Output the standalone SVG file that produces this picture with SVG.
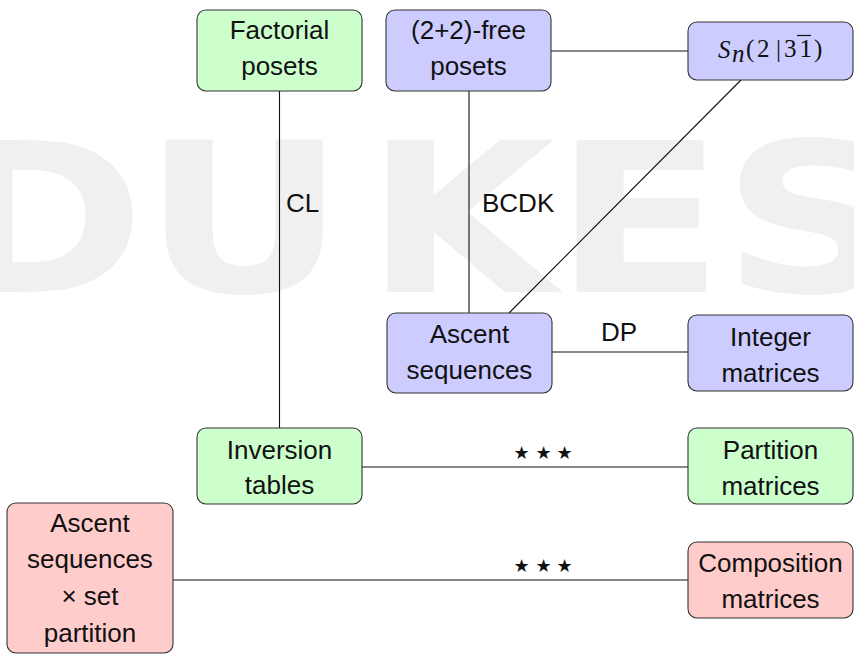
<svg xmlns="http://www.w3.org/2000/svg" width="854" height="655" viewBox="0 0 854 655">
<style>
.wm{font-family:"DejaVu Sans",sans-serif;font-weight:bold;font-size:208px;fill:#f0f0f0;text-anchor:middle}
.box rect{stroke:#333;stroke-width:1.1}
.g rect{fill:#ccffcc}
.b rect{fill:#ccccff}
.r rect{fill:#ffcccc}
.t{font-family:"Liberation Sans",Arial,sans-serif;font-size:26px;fill:#111;text-anchor:middle}
.lbl{font-family:"Liberation Sans",Arial,sans-serif;font-size:26px;fill:#111}
.star{font-family:"DejaVu Sans",sans-serif;font-size:18px;fill:#111;text-anchor:middle}
.m{font-family:"Liberation Serif","Times New Roman",serif;font-size:25px;fill:#111}
.mi{font-style:italic}
#edges line{stroke:#111;stroke-width:1.1}
</style>
<rect width="854" height="655" fill="#fff"/>
<g id="watermark">
<text class="wm" transform="translate(45,292) scale(1.16,1)">D</text>
<text class="wm" transform="translate(244,292) scale(1.2,1)">U</text>
<text class="wm" transform="translate(460,292) scale(1.18,1)">K</text>
<text class="wm" transform="translate(639,292) scale(1.2,1)">E</text>
<text class="wm" transform="translate(812,292) scale(1.2,1)">S</text>
</g>
<g id="edges">
<line x1="279.5" y1="91" x2="279.5" y2="428"/>
<line x1="469" y1="91" x2="469" y2="313"/>
<line x1="551" y1="51" x2="688" y2="51"/>
<line x1="741" y1="80" x2="509" y2="313"/>
<line x1="552" y1="352" x2="688" y2="352"/>
<line x1="362" y1="467" x2="688" y2="467"/>
<line x1="173" y1="580" x2="688" y2="580"/>
<text class="lbl" x="286" y="212">CL</text>
<text class="lbl" x="482" y="212">BCDK</text>
<text class="lbl" x="601" y="341">DP</text>
<text class="star" x="521.5" y="459">★</text>
<text class="star" x="543.5" y="459">★</text>
<text class="star" x="564.5" y="459">★</text>
<text class="star" x="521.5" y="572">★</text>
<text class="star" x="543.5" y="572">★</text>
<text class="star" x="564.5" y="572">★</text>
</g>
<g id="factorial" class="box g">
<rect x="197" y="10" width="165" height="81" rx="9"/>
<text class="t" x="279.5" y="39">Factorial</text>
<text class="t" x="279.5" y="75">posets</text>
</g>
<g id="free22" class="box b">
<rect x="386" y="10" width="165" height="81" rx="9"/>
<text class="t" x="468.5" y="39">(2+2)-free</text>
<text class="t" x="468.5" y="75">posets</text>
</g>
<g id="sn" class="box b">
<rect x="688" y="22" width="165" height="58" rx="9"/>
<text class="m mi" x="718" y="58" font-size="27">S</text>
<text class="m mi" x="732" y="62" font-size="19">n</text>
<text class="m" x="746" y="57">(</text>
<text class="m" x="757" y="57">2</text>
<text class="m" x="776" y="57">|</text>
<text class="m" x="784" y="57">3</text>
<text class="m" x="799.5" y="57">1</text>
<text class="m" x="814" y="57">)</text>
<line x1="797" y1="35.5" x2="811" y2="35.5" stroke="#111" stroke-width="1.2"/>
</g>
<g id="ascent" class="box b">
<rect x="387" y="313" width="165" height="80" rx="9"/>
<text class="t" x="469.5" y="343">Ascent</text>
<text class="t" x="469.5" y="379">sequences</text>
</g>
<g id="integer" class="box b">
<rect x="688" y="315" width="165" height="76" rx="9"/>
<text class="t" x="770.5" y="346">Integer</text>
<text class="t" x="770.5" y="382">matrices</text>
</g>
<g id="inversion" class="box g">
<rect x="197" y="428" width="165" height="76" rx="9"/>
<text class="t" x="279.5" y="459">Inversion</text>
<text class="t" x="279.5" y="494">tables</text>
</g>
<g id="partition" class="box g">
<rect x="688" y="428" width="165" height="76" rx="9"/>
<text class="t" x="770.5" y="459">Partition</text>
<text class="t" x="770.5" y="495">matrices</text>
</g>
<g id="ascentset" class="box r">
<rect x="7" y="503" width="166" height="150" rx="9"/>
<text class="t" x="90" y="532">Ascent</text>
<text class="t" x="90" y="568">sequences</text>
<text class="t" x="90" y="605">× set</text>
<text class="t" x="90" y="642">partition</text>
</g>
<g id="composition" class="box r">
<rect x="688" y="542" width="165" height="76" rx="9"/>
<text class="t" x="770.5" y="572">Composition</text>
<text class="t" x="770.5" y="608">matrices</text>
</g>
</svg>
